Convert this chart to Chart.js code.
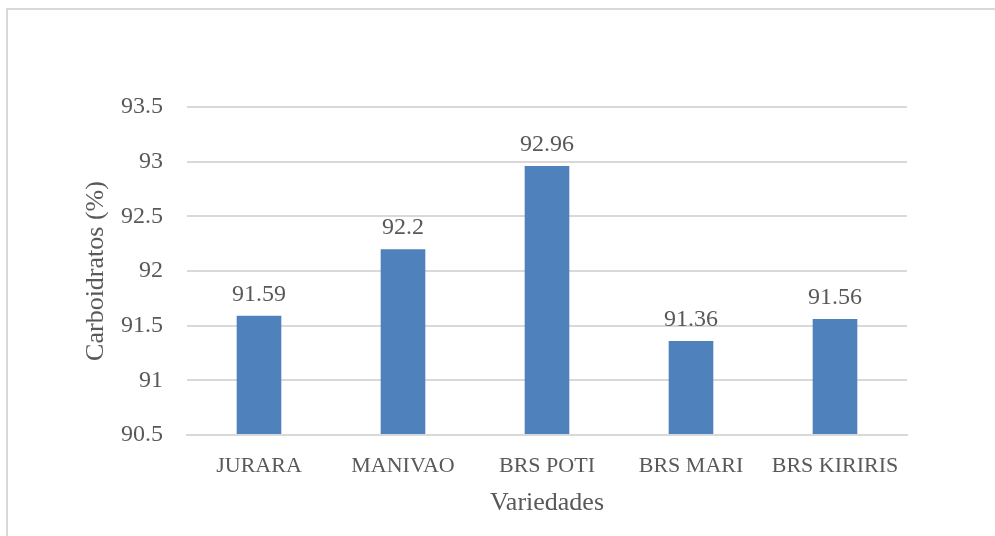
<!DOCTYPE html>
<html>
<head>
<meta charset="utf-8">
<script src="https://cdn.jsdelivr.net/npm/chart.js@4.4.1/dist/chart.umd.min.js"></script>
<style>
  html, body { margin: 0; padding: 0; background: #fff; overflow: hidden; }
  #frame { position: absolute; left: 6px; top: 8px; width: 1000px; height: 600px;
           border: 2px solid #d9d9d9; box-sizing: border-box; }
  #wrap { position: absolute; left: 0; top: 0; width: 995px; height: 536px; }
</style>
</head>
<body>
<div id="frame"></div>
<div id="wrap"><canvas id="myChart" width="995" height="536"></canvas></div>
<script>
// data
const variedades = ['JURARA', 'MANIVAO', 'BRS POTI', 'BRS MARI', 'BRS KIRIRIS'];
const carboidratos = [91.59, 92.2, 92.96, 91.36, 91.56];
const yMin = 90.5, yMax = 93.5, yStep = 0.5;

const fontFam = '"Liberation Serif", "Times New Roman", serif';
const textColor = '#595959';

// simple value labels above bars (no datalabels plugin available offline)
const barValues = {
  id: 'barValues',
  afterDatasetsDraw(chart) {
    const ctx = chart.ctx;
    const meta = chart.getDatasetMeta(0);
    ctx.save();
    ctx.font = '24px ' + fontFam;
    ctx.fillStyle = textColor;
    ctx.textAlign = 'center';
    ctx.textBaseline = 'bottom';
    meta.data.forEach((bar, i) => {
      ctx.fillText(String(carboidratos[i]), bar.x, bar.y - 9);
    });
    ctx.restore();
  }
};

const ctx = document.getElementById('myChart').getContext('2d');
new Chart(ctx, {
  type: 'bar',
  data: {
    labels: variedades,
    datasets: [{
      data: carboidratos,
      backgroundColor: '#4f81bd',
      borderWidth: 0,
      barPercentage: 0.62,
      categoryPercentage: 0.5,
      base: yMin
    }]
  },
  plugins: [barValues],
  options: {
    responsive: false,
    animation: false,
    layout: { padding: { left: 0, right: 88, top: 107, bottom: 0 } },
    plugins: { legend: { display: false }, tooltip: { enabled: false } },
    scales: {
      x: {
        grid: { display: false, drawTicks: false },
        border: { display: true, color: '#d9d9d9', width: 2 },
        ticks: { color: textColor, font: { family: fontFam, size: 22 }, padding: 18, maxRotation: 0 },
        title: { display: true, text: 'Variedades', color: textColor,
                 font: { family: fontFam, size: 26 }, padding: { bottom: 17 } },
        afterFit(scale) { scale.height = 101; }
      },
      y: {
        min: yMin, max: yMax,
        grid: { color: '#d9d9d9', lineWidth: 2, drawTicks: false },
        border: { display: false },
        ticks: { stepSize: yStep, color: textColor, font: { family: fontFam, size: 24 }, padding: 24,
                 callback: v => String(Math.round(v * 10) / 10) },
        title: { display: true, text: 'Carboidratos (%)', color: textColor,
                 font: { family: fontFam, size: 26 }, padding: { top: 81 } },
        afterFit(scale) { scale.width = 187; }
      }
    }
  }
});
</script>
</body>
</html>
